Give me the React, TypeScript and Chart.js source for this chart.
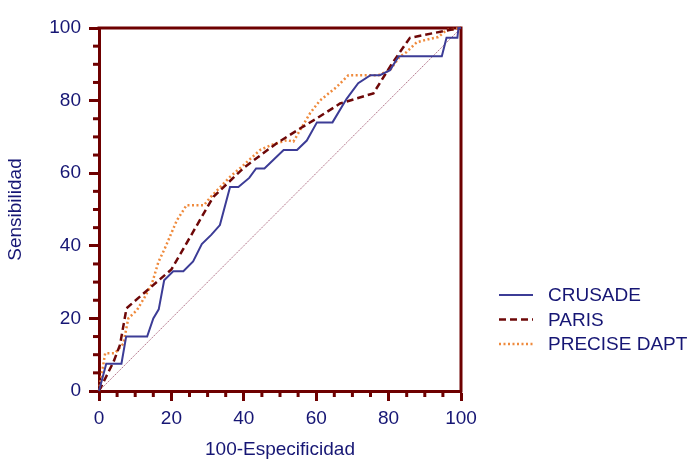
import React, { useEffect, useRef } from 'react';
import { Chart, registerables } from 'chart.js';

Chart.register(...registerables);

const seriesLabels = ['CRUSADE', 'PARIS', 'PRECISE DAPT'];

const crusadeX = [0, 2, 6.2, 7.5, 13.3, 15, 16.5, 18, 20.5, 23.3, 26, 28.4, 31, 33.4, 36.2, 38.5, 41.5, 43.4, 45.7, 51, 54.7, 57.4, 60.2, 64.5, 68.4, 71.6, 75, 77.6, 80.4, 82.8, 94.7, 96, 99, 99.3, 100];
const crusadeY = [0, 7.5, 7.5, 15, 15, 20, 22.5, 30.5, 33, 33, 35.7, 40.5, 43, 45.7, 56.2, 56.2, 58.7, 61.3, 61.3, 66.4, 66.4, 69, 74, 74, 80.5, 84.8, 87, 87, 88.4, 92.2, 92.2, 97.3, 97.3, 100, 100];

const parisX = [0, 4, 5.8, 7.6, 20, 31.6, 40, 49, 55.5, 60, 66.6, 75.8, 81, 85.9, 97.5, 100];
const parisY = [0, 8, 12.7, 22.8, 33.5, 53.5, 61.5, 68.2, 72.3, 75, 79.2, 82, 90.3, 97.3, 99.6, 100];

const preciseX = [0, 1.7, 4.4, 6.7, 8.1, 10.5, 12.7, 14.6, 16.4, 18.2, 21.5, 24.2, 29, 30.7, 36.2, 40, 44.5, 47.7, 51.9, 53.7, 56.2, 58.3, 61, 65.7, 68.9, 77.2, 80.4, 83, 85, 87.8, 91.4, 93.7, 96, 100];
const preciseY = [0, 10.4, 10.4, 13, 20, 22.3, 26, 29.5, 35.5, 39.3, 47, 51.2, 51.2, 53.3, 59, 62.3, 66.4, 67.8, 69.1, 68.7, 73, 76.5, 80, 83.8, 87, 87, 88.4, 92, 93.4, 96.1, 97, 97.5, 99.4, 100];

const diagonalX = [0, 100];
const diagonalY = [0, 100];

const axisMin = 0;
const axisMax = 100;
const majorStep = 20;
const minorStep = 5;

const xTitle = '100-Especificidad';
const yTitle = 'Sensibilidad';

const AXIS = '#6e0000';
const TEXT = '#161674';
const FONT = "'Liberation Sans', Arial, sans-serif";

const toPoints = (xs: number[], ys: number[]) => xs.map((x, i) => ({ x, y: ys[i] }));

const framePlugin = {
  id: 'frameMinor',
  beforeDatasetsDraw(chart: any) {
    const { ctx, chartArea: a, scales } = chart;
    ctx.save();
    ctx.strokeStyle = AXIS;
    ctx.lineWidth = 3;
    ctx.beginPath();
    ctx.moveTo(a.left - 1.5, a.top);
    ctx.lineTo(a.right, a.top);
    ctx.lineTo(a.right, a.bottom + 1.5);
    ctx.stroke();
    for (let v = axisMin; v <= axisMax; v += minorStep) {
      if (v % majorStep === 0) continue;
      const px = scales.x.getPixelForValue(v);
      ctx.beginPath();
      ctx.moveTo(px, a.bottom);
      ctx.lineTo(px, a.bottom + 6);
      ctx.stroke();
      const py = scales.y.getPixelForValue(v);
      ctx.beginPath();
      ctx.moveTo(a.left, py);
      ctx.lineTo(a.left - 6, py);
      ctx.stroke();
    }
    ctx.restore();
  },
  afterDraw(chart: any) {
    const { ctx } = chart;
    ctx.save();
    ctx.font = `19px ${FONT}`;
    ctx.textBaseline = 'middle';
    ctx.textAlign = 'left';
    chart.data.datasets.forEach((ds: any, i: number) => {
      if (i >= seriesLabels.length) return;
      const y = 295 + i * 24.5;
      ctx.strokeStyle = ds.borderColor;
      ctx.lineWidth = ds.borderWidth;
      ctx.setLineDash(ds.borderDash || []);
      ctx.beginPath();
      ctx.moveTo(499, y);
      ctx.lineTo(533, y);
      ctx.stroke();
      ctx.setLineDash([]);
      ctx.fillStyle = TEXT;
      ctx.fillText(ds.label, 548, y + 1);
    });
    ctx.restore();
  },
};

export default function App() {
  const ref = useRef<HTMLCanvasElement | null>(null);

  useEffect(() => {
    if (!ref.current) return;
    const tickFont = { family: FONT, size: 19 };
    const chart = new Chart(ref.current, {
      type: 'line',
      data: {
        datasets: [
          {
            label: seriesLabels[0],
            data: toPoints(crusadeX, crusadeY),
            borderColor: '#3c3c96',
            borderWidth: 2,
            pointRadius: 0,
            tension: 0,
            clip: false as any,
          },
          {
            label: seriesLabels[1],
            data: toPoints(parisX, parisY),
            borderColor: '#6e0808',
            borderWidth: 2.5,
            borderDash: [7, 4],
            pointRadius: 0,
            tension: 0,
            clip: false as any,
          },
          {
            label: seriesLabels[2],
            data: toPoints(preciseX, preciseY),
            borderColor: '#ef8a3c',
            borderWidth: 2.5,
            borderDash: [2, 2.5],
            pointRadius: 0,
            tension: 0,
            clip: false as any,
          },
          {
            label: 'diagonal',
            data: toPoints(diagonalX, diagonalY),
            borderColor: '#9a4a66',
            borderWidth: 0.8,
            borderDash: [1.5, 1],
            pointRadius: 0,
            tension: 0,
          },
        ],
      },
      options: {
        animation: false,
        responsive: true,
        maintainAspectRatio: false,
        layout: { padding: { left: 0, top: 28, right: 237, bottom: 0 } },
        plugins: { legend: { display: false }, tooltip: { enabled: false } },
        scales: {
          x: {
            type: 'linear',
            min: axisMin,
            max: axisMax,
            afterFit: (s: any) => { s.height = 77; },
            ticks: { stepSize: majorStep, color: TEXT, font: tickFont, padding: 6, maxRotation: 0 },
            grid: { drawOnChartArea: false, drawTicks: true, tickLength: 10, tickWidth: 3, tickColor: AXIS },
            border: { display: true, color: AXIS, width: 3 },
            title: { display: true, text: xTitle, color: TEXT, font: tickFont, padding: { top: 4, bottom: 7 } },
          },
          y: {
            type: 'linear',
            min: axisMin,
            max: axisMax,
            afterFit: (s: any) => { s.width = 99; },
            ticks: { stepSize: majorStep, color: TEXT, font: tickFont, padding: 8 },
            grid: { drawOnChartArea: false, drawTicks: true, tickLength: 10, tickWidth: 3, tickColor: AXIS },
            border: { display: true, color: AXIS, width: 3 },
            title: { display: true, text: yTitle, color: TEXT, font: tickFont, padding: { top: 4, bottom: 4 } },
          },
        },
      },
      plugins: [framePlugin],
    });
    return () => chart.destroy();
  }, []);

  return (
    <div style={{ position: 'absolute', left: 0, top: 0, width: 698, height: 468, background: '#fff' }}>
      <canvas ref={ref} />
    </div>
  );
}
